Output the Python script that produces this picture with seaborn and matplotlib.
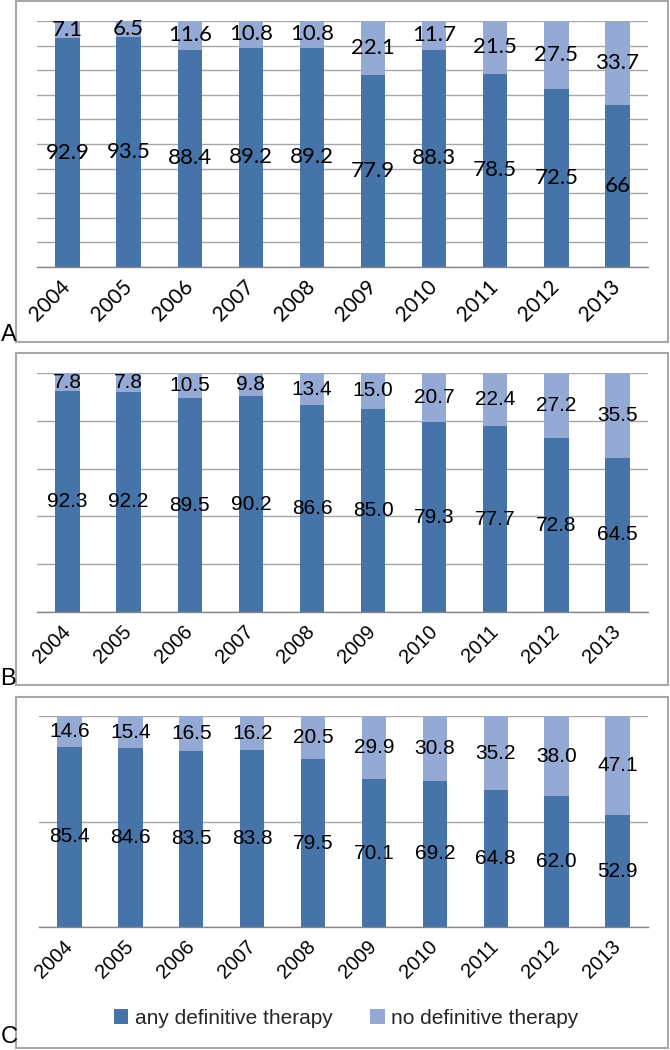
import numpy as np
import pandas as pd
import matplotlib
matplotlib.use("Agg")
import matplotlib.pyplot as plt
import seaborn as sns
from matplotlib.patches import Rectangle, Patch

years = ["2004", "2005", "2006", "2007", "2008", "2009", "2010", "2011", "2012", "2013"]

a_any = [92.9, 93.5, 88.4, 89.2, 89.2, 77.9, 88.3, 78.5, 72.5, 66]
a_no = [7.1, 6.5, 11.6, 10.8, 10.8, 22.1, 11.7, 21.5, 27.5, 33.7]

b_any = [92.3, 92.2, 89.5, 90.2, 86.6, 85.0, 79.3, 77.7, 72.8, 64.5]
b_no = [7.8, 7.8, 10.5, 9.8, 13.4, 15.0, 20.7, 22.4, 27.2, 35.5]

c_any = [85.4, 84.6, 83.5, 83.8, 79.5, 70.1, 69.2, 64.8, 62.0, 52.9]
c_no = [14.6, 15.4, 16.5, 16.2, 20.5, 29.9, 30.8, 35.2, 38.0, 47.1]

series_names = ["any definitive therapy", "no definitive therapy"]
panel_letters = ["A", "B", "C"]

DARK = "#4673A8"
LIGHT = "#94A9D3"
GRID = "#A6A6A6"
AXIS = "#868686"
BOX = "#A8A8A8"

sns.set_theme(style="white")
plt.rcParams["font.family"] = ["Liberation Sans", "DejaVu Sans"]

W, H = 670, 1050
fig = plt.figure(figsize=(W / 100, H / 100), dpi=100)


def px_axes(left, top, right, bottom):
    return fig.add_axes([left / W, 1 - bottom / H, (right - left) / W, (bottom - top) / H])


def box(left, top, right, bottom):
    fig.add_artist(Rectangle((left / W, 1 - bottom / H), (right - left) / W, (bottom - top) / H,
                             transform=fig.transFigure, fill=False, edgecolor=BOX, linewidth=1.5))


def panel(ax, any_vals, no_vals, grid_step, font, fmt, lab_size, tick_size):
    df = pd.DataFrame({"year": years, "any": any_vals, "no": no_vals})
    df["total"] = df["any"] + df["no"]
    sns.barplot(data=df, x="year", y="total", color=LIGHT, width=0.4, ax=ax,
                saturation=1, linewidth=0)
    sns.barplot(data=df, x="year", y="any", color=DARK, width=0.4, ax=ax,
                saturation=1, linewidth=0)
    ax.set_xlim(-0.5, len(years) - 0.5)
    ax.set_ylim(0, 100)
    ax.set_yticks(np.arange(0, 101, grid_step))
    ax.set_yticklabels([])
    ax.tick_params(axis="y", length=0)
    ax.grid(axis="y", color=GRID, linewidth=1.0)
    ax.set_axisbelow(True)
    for s in ["left", "right", "top"]:
        ax.spines[s].set_visible(False)
    ax.spines["bottom"].set_color(AXIS)
    ax.spines["bottom"].set_linewidth(1.0)
    ax.set_xlabel("")
    ax.set_ylabel("")
    ax.set_xticks(np.arange(len(years)))
    ax.set_xticks(np.arange(-0.5, len(years), 1.0), minor=True)
    ax.tick_params(axis="x", which="major", length=0, pad=12)
    ax.tick_params(axis="x", which="minor", length=6, width=1.0, color=AXIS, direction="out")
    ax.set_xticklabels(years, rotation=45, ha="right", va="center", rotation_mode="anchor",
                       fontsize=tick_size, family=font, color="black")
    for i in range(len(years)):
        ax.text(i, any_vals[i] / 2, fmt(any_vals[i]), ha="center", va="center",
                fontsize=lab_size, family=font, color="black")
        ax.text(i, any_vals[i] + no_vals[i] / 2, fmt(no_vals[i]), ha="center", va="center",
                fontsize=lab_size, family=font, color="black")


fmt_general = lambda v: f"{v:g}"
fmt_one = lambda v: f"{v:.1f}"

axA = px_axes(37, 21, 648, 267)
panel(axA, a_any, a_no, 10, ["Lato", "DejaVu Sans"], fmt_general, 16, 15)
axB = px_axes(37, 373, 648, 612)
panel(axB, b_any, b_no, 20, ["Liberation Sans", "DejaVu Sans"], fmt_one, 15, 14.5)
axC = px_axes(39, 716, 648, 927)
panel(axC, c_any, c_no, 50, ["Liberation Sans", "DejaVu Sans"], fmt_one, 15, 14.5)

box(16, 1, 668, 342)
box(16, 353, 668, 685)
box(16, 697, 668, 1048)

for letter, ybase in zip(panel_letters, [346, 690, 1048]):
    fig.text(0.5 / W, 1 - ybase / H, letter, ha="left", va="bottom", fontsize=17, color="black")

handles = [Patch(facecolor=DARK, edgecolor="none"), Patch(facecolor=LIGHT, edgecolor="none")]
fig.legend(handles, series_names, loc="center", bbox_to_anchor=(346 / W, 1 - 1018 / H),
           ncol=2, frameon=False, fontsize=15, handlelength=0.7, handleheight=0.7,
           handletextpad=0.3, columnspacing=1.8)

fig.savefig("out.png", dpi=100)
